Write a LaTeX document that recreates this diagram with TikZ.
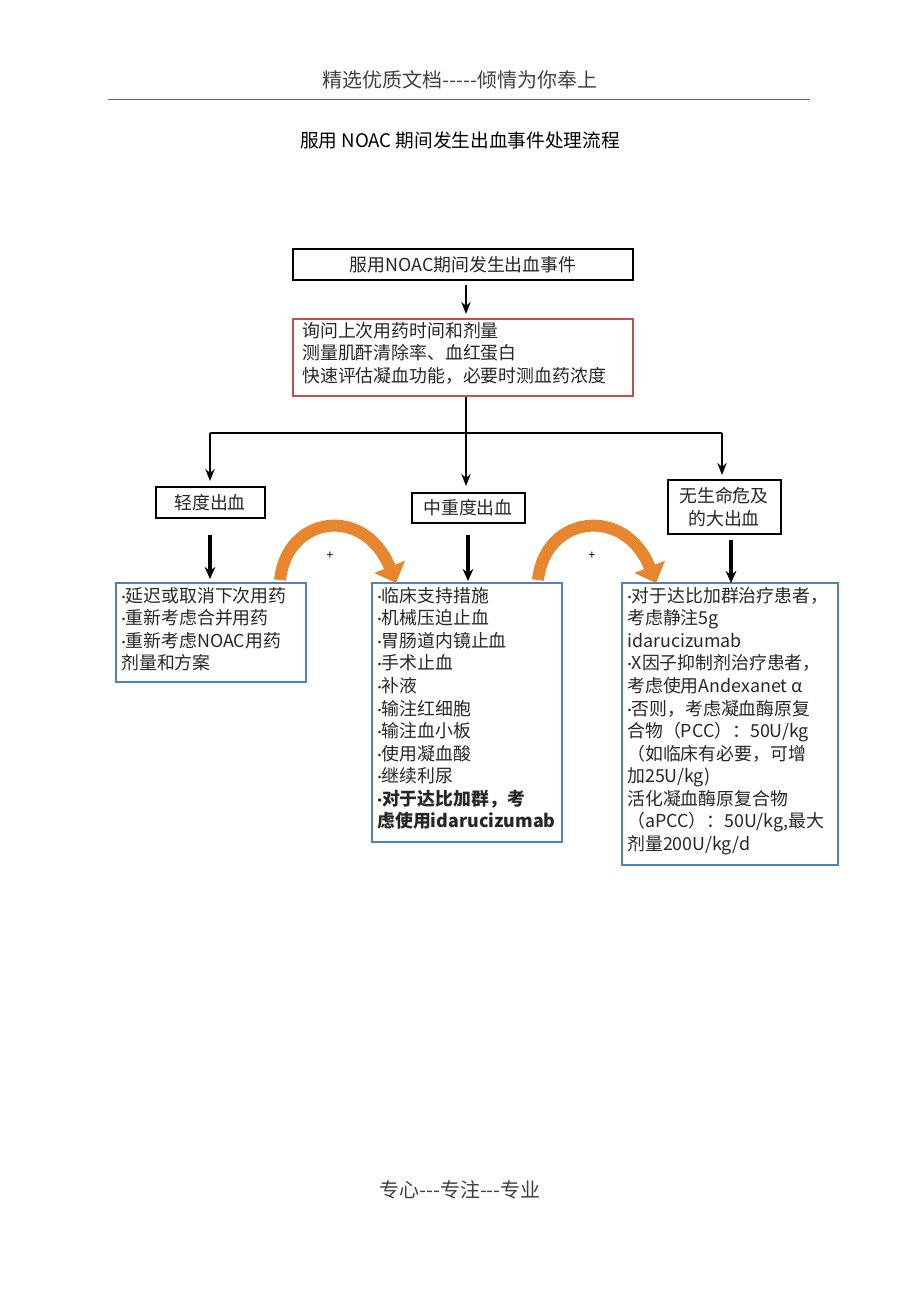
\documentclass[tikz,border=0pt]{standalone}
\usepackage{fontspec}
\setmainfont{Noto Sans CJK SC}
\newfontfamily\lat{Carlito}
\newcommand\dt{{\lat\char"00B7}}
\usetikzlibrary{arrows.meta}
\definecolor{redb}{HTML}{C0504D}
\definecolor{blueb}{HTML}{4F81BD}
\definecolor{orng}{HTML}{E8852F}
\begin{document}
\begin{tikzpicture}[x=0.75pt,y=-0.75pt,
  txt/.style={font=\fontsize{13.4}{16.9}\selectfont,inner sep=0pt,text=black!85},
  blk/.style={draw,line width=1.6pt},
  redbox/.style={draw=redb,line width=1.1pt},
  bluebox/.style={draw=blueb,line width=1.3pt},
  arr/.style={-{Stealth[length=9pt,width=7pt]},line width=1.6pt},
  thick arr/.style={-{Stealth[length=9pt,width=8pt]},line width=2.6pt},
  orange arr/.style={-{Triangle[length=13pt,width=24pt]},line width=9pt,draw=orng}]
\useasboundingbox (0,0) rectangle (920,1302);
\node[font=\fontsize{15}{18}\selectfont,text=black!75] (hdr) at (460,80) {精选优质文档{-}{-}{-}{-}{-}倾情为你奉上};
\draw[line width=0.5pt,black!60] (108,99) coordinate (hl) -- (810,99) coordinate (hr);
\node[font=\fontsize{14}{17}\selectfont] (title) at (460,140) {服用 NOAC 期间发生出血事件处理流程};

\draw[blk] (293,249) rectangle (633,280);
\node[txt] (b1) at (463,265) {服用NOAC期间发生出血事件};
\coordinate (b1s) at (466,285);
\draw[redbox] (293,319) rectangle (633,396);
\coordinate (b2n) at (466,314);
\node[txt,anchor=north west,align=left] (b2) at (302,322) {询问上次用药时间和剂量\\测量肌酐清除率、血红蛋白\\快速评估凝血功能，必要时测血药浓度};
\draw[arr] (b1s) -- (b2n);
\coordinate (b2s) at (466,397);
\coordinate (j) at (466,433);
\coordinate (jl) at (210,433);
\coordinate (jr) at (722,433);
\draw[line width=1.6pt] (b2s) -- (j);
\draw[line width=1.6pt] (jl) -- (jr);

\draw[blk] (156,487) rectangle (265,518);
\node[txt] (m1) at (210,503) {轻度出血};
\draw[blk] (412,493) rectangle (525,523);
\node[txt] (m2) at (468,508) {中重度出血};
\draw[blk] (668,480) rectangle (781,534);
\node[txt,align=center] (m3) at (724,507) {无生命危及\\的大出血};
\draw[arr] (jl) -- (210,481);
\draw[arr] (j) -- (466,486);
\draw[arr] (jr) -- (722,475);

\draw[bluebox] (116,583) rectangle (306,682);
\node[txt,anchor=north west,align=left] (l1) at (121,587) {\dt 延迟或取消下次用药\\\dt 重新考虑合并用药\\\dt 重新考虑NOAC用药\\剂量和方案};
\draw[bluebox] (372,583) rectangle (562,842);
\node[txt,anchor=north west,align=left] (l2) at (377,587) {\dt 临床支持措施\\\dt 机械压迫止血\\\dt 胃肠道内镜止血\\\dt 手术止血\\\dt 补液\\\dt 输注红细胞\\\dt 输注血小板\\\dt 使用凝血酸\\\dt 继续利尿\\\textbf{\dt 对于达比加群，考}\\\textbf{虑使用idarucizumab}};
\draw[bluebox] (622,583) rectangle (838,865);
\node[txt,anchor=north west,align=left] (l3) at (627,587) {\dt 对于达比加群治疗患者，\\考虑静注5g\\idarucizumab\\\dt X因子抑制剂治疗患者，\\考虑使用Andexanet α\\\dt 否则，考虑凝血酶原复\\合物（PCC）：50U/kg\\（如临床有必要，可增\\加25U/kg)\\活化凝血酶原复合物\\（aPCC）：50U/kg,最大\\剂量200U/kg/d};

\draw[thick arr] (210,535) -- (210,579);
\draw[thick arr] (468,535) -- (468,581);
\draw[thick arr] (731,540) -- (731,583);

\coordinate (o1a) at (280,580);
\coordinate (o1b) at (396,583);
\coordinate (o2a) at (538,580);
\coordinate (o2b) at (656,583);
\draw[orange arr] (o1a) .. controls (287,515) and (365,505) .. (o1b);
\draw[orange arr] (o2a) .. controls (545,515) and (625,505) .. (o2b);
\node[font=\small] (p1) at (330,556) {+};
\node[font=\small] (p2) at (592,556) {+};

\node[font=\fontsize{15}{18}\selectfont,text=black!75] (ftr) at (460,1190) {专心{-}{-}{-}专注{-}{-}{-}专业};
\end{tikzpicture}
\end{document}
